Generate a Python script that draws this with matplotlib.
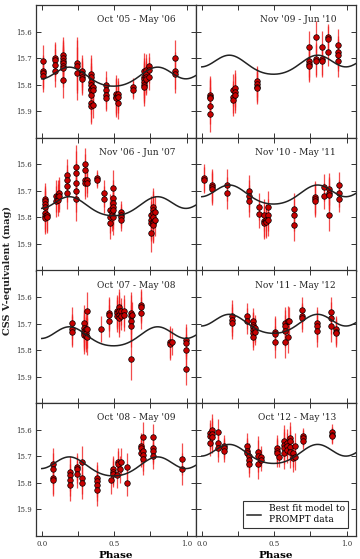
import numpy as np
import matplotlib
matplotlib.use("Agg")
import matplotlib.pyplot as plt
from matplotlib.ticker import FixedLocator

plt.rcParams['font.family'] = ['DejaVu Serif']

# ---------------- data ----------------
titles = ["Oct '05 - May '06", "Nov '06 - Jun '07", "Oct '07 - May '08", "Oct '08 - May '09",
          "Nov '09 - Jun '10", "Nov '10 - May '11", "Nov '11 - May '12", "Oct '12 - May '13"]

# model: m = offset + sum a_k cos(2 pi k (phase - phase0))
model_phase0 = 0.495
model_coeffs = [0.0214, 0.0249, -0.0076]
model_offsets = [15.767, 15.755, 15.745, 15.735, 15.722, 15.711, 15.698, 15.688]

p1_phase = [0.007, 0.09, 0.145, 0.245, 0.28, 0.337, 0.353, 0.44, 0.51, 0.526, 0.63, 0.705, 0.72, 0.74, 0.917]
p1_mags = [[15.71, 15.748, 15.756, 15.769], [15.70, 15.706, 15.725, 15.748],
           [15.69, 15.70, 15.71, 15.719, 15.729, 15.737, 15.782], [15.72, 15.73, 15.757],
           [15.75, 15.76, 15.77, 15.78], [15.76, 15.77, 15.79, 15.80, 15.815, 15.82, 15.84, 15.87, 15.88],
           [15.81, 15.82, 15.875], [15.80, 15.82, 15.84, 15.85], [15.835, 15.845, 15.85],
           [15.835, 15.845, 15.87], [15.81, 15.82], [15.75, 15.77, 15.78, 15.79, 15.80, 15.81],
           [15.745, 15.76, 15.77, 15.78], [15.73, 15.745, 15.77], [15.70, 15.748, 15.76]]
p1_err = [0.06, 0.06, 0.07, 0.10, 0.06, 0.07, 0.05, 0.05, 0.07, 0.06, 0.035, 0.07, 0.06, 0.05, 0.07]

p2_phase = [0.02, 0.033, 0.095, 0.11, 0.12, 0.171, 0.233, 0.297, 0.313, 0.383, 0.43, 0.47, 0.482, 0.493, 0.549, 0.751, 0.77, 0.782]
p2_mags = [[15.732, 15.74, 15.749, 15.759, 15.784, 15.794, 15.803], [15.79, 15.80],
           [15.719, 15.74], [15.72, 15.734], [15.709, 15.719], [15.64, 15.661, 15.682, 15.707],
           [15.609, 15.631, 15.669, 15.70, 15.732], [15.60, 15.621, 15.659, 15.669], [15.659, 15.672],
           [15.653, 15.659], [15.709, 15.732], [15.772, 15.80, 15.82], [15.778, 15.79],
           [15.69, 15.728, 15.744, 15.759, 15.774, 15.797], [15.778, 15.79, 15.80, 15.81],
           [15.79, 15.81, 15.82, 15.86], [15.759, 15.772, 15.782, 15.80, 15.816, 15.822, 15.828],
           [15.778, 15.81]]
p2_err = [0.06, 0.06, 0.06, 0.06, 0.06, 0.06, 0.08, 0.06, 0.05, 0.03, 0.05, 0.06, 0.06, 0.07, 0.04, 0.07, 0.07, 0.06]

p3_phase = [0.21, 0.29, 0.302, 0.313, 0.412, 0.463, 0.516, 0.532, 0.544, 0.567, 0.613, 0.625, 0.687, 0.885, 0.901, 0.998]
p3_mags = [[15.699, 15.722, 15.73], [15.699, 15.718, 15.727, 15.734, 15.743], [15.722, 15.737, 15.747],
           [15.651, 15.722, 15.749], [15.72], [15.661, 15.667, 15.69], [15.651, 15.661, 15.671],
           [15.638, 15.651, 15.667, 15.68], [15.654, 15.673], [15.651, 15.667],
           [15.661, 15.671, 15.69, 15.709, 15.832], [15.667], [15.629, 15.638, 15.661],
           [15.768, 15.777], [15.768], [15.762, 15.772, 15.80, 15.871]]
p3_err = [0.06, 0.07, 0.06, 0.07, 0.05, 0.06, 0.06, 0.07, 0.05, 0.06, 0.08, 0.05, 0.06, 0.06, 0.05, 0.06]

p4_phase = [0.078, 0.193, 0.243, 0.278, 0.381, 0.48, 0.495, 0.518, 0.523, 0.541, 0.548, 0.59, 0.687, 0.70, 0.765, 0.97]
p4_mags = [[15.729, 15.749, 15.78, 15.79], [15.758, 15.771, 15.79, 15.809], [15.739, 15.749, 15.768],
           [15.72, 15.78, 15.80], [15.78, 15.792, 15.809, 15.828], [15.79], [15.749, 15.758, 15.767],
           [15.771], [15.72, 15.729], [15.749], [15.72], [15.739, 15.80],
           [15.661, 15.67, 15.689], [15.629, 15.678, 15.695, 15.71], [15.629, 15.67, 15.678, 15.699],
           [15.71, 15.749]]
p4_err = [0.06, 0.06, 0.05, 0.06, 0.06, 0.05, 0.05, 0.05, 0.05, 0.05, 0.05, 0.05, 0.05, 0.06, 0.05, 0.06]

p5_phase = [0.055, 0.216, 0.228, 0.378, 0.742, 0.792, 0.831, 0.875, 0.941]
p5_mags = [[15.838, 15.845, 15.851, 15.88, 15.91], [15.819, 15.845, 15.857], [15.813, 15.826, 15.838],
           [15.788, 15.797, 15.807, 15.813], [15.659, 15.712, 15.721, 15.731], [15.62, 15.703, 15.712],
           [15.659, 15.703, 15.712], [15.62, 15.628, 15.678], [15.649, 15.678, 15.687, 15.712]]
p5_err = [0.07, 0.06, 0.07, 0.06, 0.06, 0.06, 0.06, 0.05, 0.06]

p6_phase = [0.014, 0.072, 0.175, 0.327, 0.393, 0.43, 0.44, 0.456, 0.634, 0.784, 0.842, 0.879, 0.948]
p6_mags = [[15.65, 15.659], [15.678, 15.687, 15.694], [15.678, 15.709], [15.699, 15.719, 15.739],
           [15.759, 15.789], [15.79, 15.812, 15.82], [15.81, 15.816], [15.759, 15.79, 15.81],
           [15.769, 15.79, 15.83], [15.722, 15.73, 15.738], [15.687, 15.719],
           [15.694, 15.707, 15.716, 15.79], [15.678, 15.709, 15.729]]
p6_err = [0.05, 0.06, 0.06, 0.06, 0.05, 0.06, 0.06, 0.06, 0.06, 0.06, 0.05, 0.06, 0.05]

p7_phase = [0.212, 0.313, 0.355, 0.366, 0.505, 0.576, 0.597, 0.604, 0.694, 0.797, 0.889, 0.926]
p7_mags = [[15.671, 15.686, 15.699], [15.671, 15.69], [15.692, 15.705, 15.711, 15.724, 15.737, 15.749],
           [15.718, 15.73], [15.73, 15.739, 15.768], [15.699, 15.709, 15.727, 15.768],
           [15.692, 15.749], [15.689], [15.648, 15.671, 15.68], [15.699, 15.709, 15.727],
           [15.658, 15.68, 15.709], [15.722, 15.73, 15.737]]
p7_err = [0.06, 0.05, 0.05, 0.05, 0.06, 0.06, 0.06, 0.05, 0.05, 0.06, 0.06, 0.05]

p8_phase = [0.06, 0.071, 0.115, 0.154, 0.315, 0.327, 0.389, 0.412, 0.52, 0.533, 0.566, 0.588, 0.607, 0.63, 0.641, 0.70, 0.90]
p8_mags = [[15.613, 15.623, 15.648], [15.60, 15.615, 15.628], [15.61, 15.651, 15.67],
           [15.661, 15.67, 15.68], [15.661, 15.68, 15.689], [15.699, 15.714, 15.727],
           [15.682, 15.699, 15.727], [15.701, 15.714], [15.67, 15.68, 15.689], [15.701],
           [15.641, 15.657, 15.67, 15.686], [15.648, 15.661, 15.676], [15.632, 15.644, 15.663, 15.682],
           [15.689, 15.708], [15.661, 15.701], [15.623, 15.632, 15.641], [15.61, 15.619, 15.625]]
p8_err = [0.05, 0.06, 0.05, 0.04, 0.05, 0.05, 0.06, 0.04, 0.05, 0.04, 0.06, 0.05, 0.06, 0.05, 0.05, 0.03, 0.03]

panels = [(p1_phase, p1_mags, p1_err), (p2_phase, p2_mags, p2_err),
          (p3_phase, p3_mags, p3_err), (p4_phase, p4_mags, p4_err),
          (p5_phase, p5_mags, p5_err), (p6_phase, p6_mags, p6_err),
          (p7_phase, p7_mags, p7_err), (p8_phase, p8_mags, p8_err)]

# ---------------- figure ----------------
fig = plt.figure(figsize=(3.6, 5.59), dpi=100)
L0, W = 36 / 360, 160 / 360
L1 = 196 / 360
top = 1 - 5 / 559
bottom = 1 - 536 / 559
H = (top - bottom) / 4

phase_grid = np.linspace(0, 1.2, 400)

def model(ph, off):
    m = np.full_like(ph, off)
    for k, a in enumerate(model_coeffs, start=1):
        m += a * np.cos(2 * np.pi * k * (ph - model_phase0))
    return m

axes = []
for i in range(8):
    col = i // 4
    row = i % 4
    left = L0 if col == 0 else L1
    ax = fig.add_axes([left, top - (row + 1) * H, W, H])
    axes.append(ax)
    ph, mags, errs = panels[i]
    xs, ys, es = [], [], []
    for p, ms, e in zip(ph, mags, errs):
        for m in ms:
            xs.append(p); ys.append(m); es.append(e)
    ax.errorbar(xs, ys, yerr=es, fmt='none', ecolor='#f02020', elinewidth=0.9, alpha=0.8, zorder=2)
    ax.plot(xs, ys, 'o', ms=4.0, mfc='#c80000', mec='black', mew=0.5, zorder=3)
    ax.plot(phase_grid, model(phase_grid, model_offsets[i]), color='#222222', lw=1.1, zorder=4)
    ax.set_xlim(-0.04, 1.065)
    ax.set_ylim(16.0, 15.5)
    ax.xaxis.set_major_locator(FixedLocator([0.0, 0.25, 0.5, 0.75, 1.0]))
    ax.yaxis.set_major_locator(FixedLocator([15.6, 15.7, 15.8, 15.9]))
    ax.tick_params(direction='in', top=True, right=True, length=3.5, width=0.7,
                   labelsize=5, colors='#333333', pad=3)
    for s in ax.spines.values():
        s.set_linewidth(0.9)
        s.set_color('#333333')
    ax.text(0.875, 0.89, titles[i], transform=ax.transAxes, ha='right', va='center',
            fontsize=6.5, color='#222222')
    if row == 3:
        ax.set_xticklabels(['0.0', '', '0.5', '', '1.0'])
        ax.set_xlabel('Phase', fontsize=7.5, fontweight='bold', labelpad=2)
    else:
        ax.set_xticklabels([])
    if col == 0:
        ax.set_yticklabels(['15.6', '15.7', '15.8', '15.9'])
    else:
        ax.set_yticklabels([])

line, = axes[7].plot([], [], color='#222222', lw=1.1)
leg = axes[7].legend([line], ['Best fit model to\nPROMPT data'], loc='lower right',
                     fontsize=6.5, frameon=True, fancybox=False, handlelength=1.6,
                     borderpad=0.4, labelspacing=0.2, handletextpad=0.8,
                     bbox_to_anchor=(0.98, 0.03))
leg.get_frame().set_edgecolor('black')
leg.get_frame().set_linewidth(0.8)

fig.text(0.022, (top + bottom) / 2, 'CSS V-equivalent (mag)', rotation=90,
         ha='center', va='center', fontsize=7, fontweight='bold', color='#222222')

fig.savefig('out.png', dpi=100)
